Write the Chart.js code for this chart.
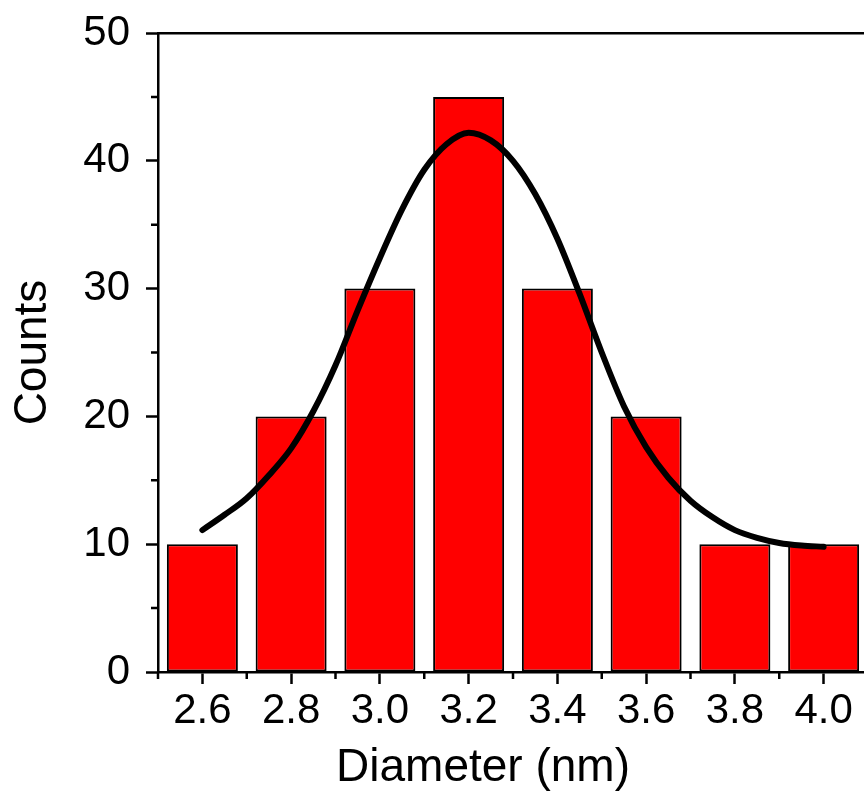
<!DOCTYPE html>
<html>
<head>
<meta charset="utf-8">
<script src="https://cdn.jsdelivr.net/npm/chart.js@4/dist/chart.umd.min.js"></script>
<style>
  html, body { margin: 0; padding: 0; background: #fff; overflow: hidden; }
  canvas { display: block; }
</style>
</head>
<body>
<canvas id="histo" width="880" height="795"></canvas>
<script>
// histogram bins
const binCenters = [2.6, 2.8, 3.0, 3.2, 3.4, 3.6, 3.8, 4.0];
const counts = [10, 20, 30, 45, 30, 20, 10, 10];

// gaussian fit curve
const fitX = [2.60, 2.65, 2.70, 2.75, 2.80, 2.85, 2.90, 2.95, 3.00, 3.05, 3.10, 3.15, 3.20, 3.25, 3.30,
              3.35, 3.40, 3.45, 3.50, 3.55, 3.60, 3.65, 3.70, 3.75, 3.80, 3.85, 3.90, 3.95, 4.00];
const fitY = [11.1, 12.3, 13.6, 15.4, 17.5, 20.4, 24.0, 28.3, 32.4, 36.2, 39.3, 41.3, 42.2, 41.6, 40.0,
              37.4, 33.9, 29.6, 25.0, 20.8, 17.6, 15.2, 13.4, 12.1, 11.1, 10.5, 10.1, 9.9, 9.8];

// ticks
const xTicks = [2.6, 2.8, 3.0, 3.2, 3.4, 3.6, 3.8, 4.0];
const xMinorTicks = [2.5, 2.7, 2.9, 3.1, 3.3, 3.5, 3.7, 3.9, 4.1];
const yTicks = [0, 10, 20, 30, 40, 50];
const yMinorTicks = [5, 15, 25, 35, 45];

const xTitle = 'Diameter (nm)';
const yTitle = 'Counts';

const FONT = "'Liberation Sans', Arial, sans-serif";
const AXIS_W = 2.5;

// minor ticks + x title drawn on top of the axes
const extras = {
    id: 'extras',
    afterDraw(chart) {
        const ctx = chart.ctx;
        const x = chart.scales.x, y = chart.scales.y;
        const area = chart.chartArea;
        ctx.save();
        ctx.strokeStyle = '#000';
        ctx.lineWidth = AXIS_W;
        ctx.beginPath();
        xMinorTicks.forEach(v => {
            const px = x.getPixelForValue(v);
            ctx.moveTo(px, area.bottom);
            ctx.lineTo(px, area.bottom + 7);
        });
        yMinorTicks.forEach(v => {
            const py = y.getPixelForValue(v);
            ctx.moveTo(area.left, py);
            ctx.lineTo(area.left - 7, py);
        });
        ctx.stroke();

        ctx.fillStyle = '#000';
        ctx.font = `46px ${FONT}`;
        ctx.textAlign = 'center';
        ctx.textBaseline = 'alphabetic';
        ctx.fillText(xTitle, 483, 781);
        ctx.restore();
    }
};

new Chart(document.getElementById('histo'), {
    type: 'bar',
    data: {
        datasets: [
            {
                type: 'line',
                data: fitX.map((v, i) => ({ x: v, y: fitY[i] })),
                borderColor: '#000',
                borderWidth: 6,
                borderCapStyle: 'round',
                pointRadius: 0,
                cubicInterpolationMode: 'monotone',
                fill: false,
                order: 1
            },
            {
                type: 'bar',
                data: binCenters.map((v, i) => ({ x: v, y: counts[i] })),
                backgroundColor: '#FF0000',
                borderColor: '#000',
                borderWidth: 2,
                borderSkipped: false,
                barPercentage: 0.8,
                categoryPercentage: 1.0,
                order: 2
            }
        ]
    },
    options: {
        responsive: false,
        animation: false,
        layout: { padding: { top: 0, right: 12, bottom: 0, left: 0 } },
        plugins: {
            legend: { display: false },
            tooltip: { enabled: false }
        },
        scales: {
            x: {
                type: 'linear',
                position: 'bottom',
                min: 2.5,
                max: 4.1,
                offset: false,
                afterBuildTicks: s => { s.ticks = xTicks.map(v => ({ value: v })); },
                afterFit: s => { s.height = 795 - 672; s.paddingLeft = 0; s.paddingRight = 0; },
                grid: {
                    display: true,
                    offset: false,
                    drawOnChartArea: false,
                    drawTicks: true,
                    tickLength: 12,
                    tickWidth: AXIS_W,
                    tickColor: '#000'
                },
                border: { display: true, color: '#000', width: AXIS_W },
                ticks: {
                    color: '#000',
                    padding: 2,
                    maxRotation: 0,
                    autoSkip: false,
                    font: { family: FONT, size: 42 },
                    callback: v => Number(v).toFixed(1)
                },
                title: { display: false }
            },
            xTop: {
                type: 'linear',
                position: 'top',
                min: 2.5,
                max: 4.1,
                afterFit: s => { s.height = 33; s.paddingLeft = 0; s.paddingRight = 0; },
                grid: { display: false, drawTicks: false },
                border: { display: true, color: '#000', width: AXIS_W },
                ticks: { display: false }
            },
            y: {
                type: 'linear',
                position: 'left',
                min: 0,
                max: 50,
                afterBuildTicks: s => { s.ticks = yTicks.map(v => ({ value: v })); },
                afterFit: s => { s.width = 158; s.paddingTop = 0; s.paddingBottom = 0; },
                grid: {
                    display: true,
                    drawOnChartArea: false,
                    drawTicks: true,
                    tickLength: 12,
                    tickWidth: AXIS_W,
                    tickColor: '#000'
                },
                border: { display: true, color: '#000', width: AXIS_W },
                ticks: {
                    color: '#000',
                    padding: 16,
                    font: { family: FONT, size: 42 }
                },
                title: {
                    display: true,
                    text: yTitle,
                    color: '#000',
                    padding: { top: 6, bottom: 0 },
                    font: { family: FONT, size: 46 }
                }
            }
        }
    },
    plugins: [extras]
});
</script>
</body>
</html>
